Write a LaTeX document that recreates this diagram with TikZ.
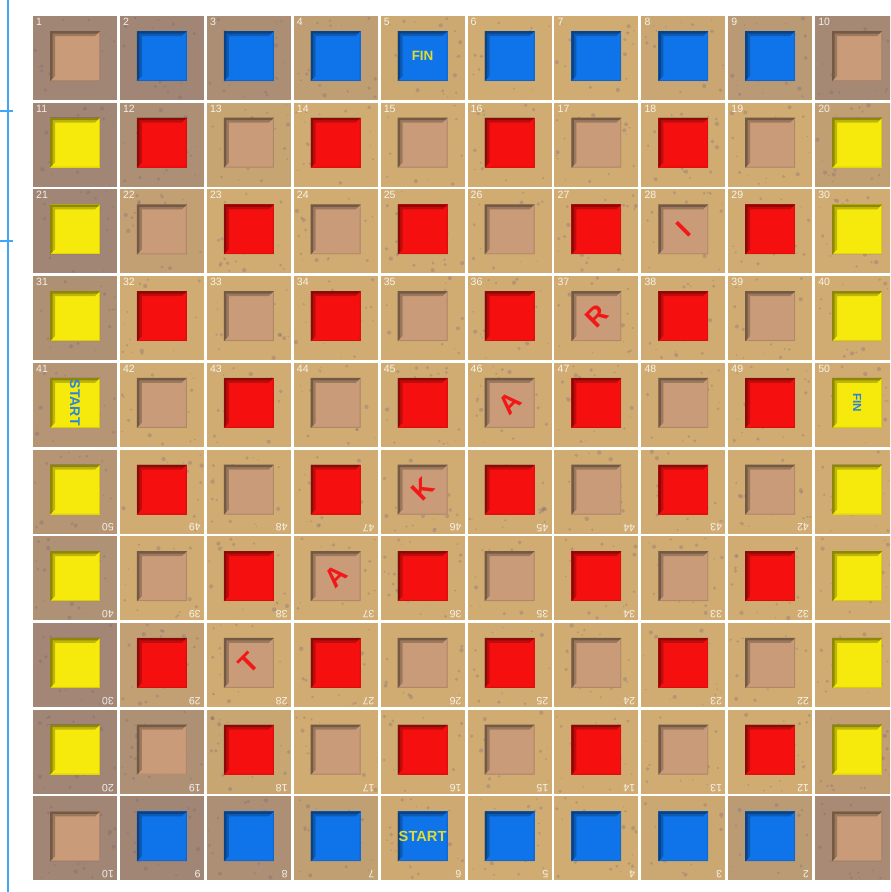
\documentclass[tikz,border=0pt]{standalone}
\usepackage{fontspec}
\setmainfont{Liberation Sans}
\definecolor{gold}{HTML}{D0AC72}
\definecolor{purp}{HTML}{9A7F76}
\definecolor{speck}{HTML}{6E5E7A}
\definecolor{btan}{HTML}{C99B78}
\definecolor{bred}{HTML}{F5100F}
\definecolor{bblue}{HTML}{0F74EA}
\definecolor{byel}{HTML}{F6EA0C}
\definecolor{rail}{HTML}{42A6F4}
\definecolor{lettr}{HTML}{F21818}
\definecolor{syel}{HTML}{DCDC34}
\definecolor{sblue}{HTML}{2A84DE}
\tikzset{
  numtl/.style={anchor=north west,inner sep=0pt,text=white,font=\fontsize{9}{9}\selectfont,opacity=.85},
  numbr/.style={anchor=north west,rotate=180,inner sep=0pt,text=white,font=\fontsize{9}{9}\selectfont,opacity=.85},
  letr/.style={rotate=45,inner sep=0pt,text=lettr,font=\fontsize{23}{23}\selectfont\bfseries},
  blab/.style={inner sep=0pt,text=syel,font=\fontsize{12.5}{12.5}\selectfont\bfseries},
  ylab/.style={inner sep=0pt,text=sblue,font=\fontsize{12}{12}\selectfont\bfseries},
  railline/.style={draw=rail,line width=1.9pt}
}
\begin{document}
\begin{tikzpicture}[x=0.03cm,y=-0.03cm]
\useasboundingbox (0,0) rectangle (890,892);
\fill[white] (0,0) rectangle (890,892);
\pgfmathsetseed{4242}
\begin{scope}
\clip (0,0) rectangle (890,892);
\foreach \r in {1,...,10}{
  \foreach \c in {1,...,10}{
    \pgfmathsetmacro\tx{33+86.9*(\c-1)}
    \pgfmathsetmacro\ty{16+86.7*(\r-1)}
    \pgfmathsetmacro\dd{100*sqrt(((\tx+42-540)/100)^2+((\ty+42-450)/100)^2)}
    \pgfmathtruncatemacro\pc{max(0,min(85,(\dd-400)*0.75))}
    \colorlet{tilec}{purp!\pc!gold}
    \fill[tilec] (\tx,\ty) rectangle ++(84,84);
    \foreach \k in {1,...,22}{
      \pgfmathsetmacro\px{\tx+2+80*rnd}
      \pgfmathsetmacro\py{\ty+2+80*rnd}
      \pgfmathsetmacro\pr{0.6+1.6*rnd}
      \fill[speck,opacity=.28] (\px,\py) circle[radius=\pr];
    }
    \pgfmathtruncatemacro\er{or(\r==1,\r==10)}
    \pgfmathtruncatemacro\ec{or(\c==1,\c==10)}
    \pgfmathtruncatemacro\kind{\er*(1-\ec)*2+\ec*(1-\er)*3+(1-\er)*(1-\ec)*(1-mod(\r+\c,2))}
    \ifcase\kind \colorlet{sq}{btan}\or \colorlet{sq}{bred}\or \colorlet{sq}{bblue}\or \colorlet{sq}{byel}\fi
    \pgfmathsetmacro\sx{\tx+17}
    \pgfmathsetmacro\sy{\ty+15}
    \fill[sq] (\sx,\sy) rectangle ++(50,50);
    \fill[black,opacity=.22] (\sx,\sy) -- ++(50,0) -- ++(-5,5) -- ++(-40,0) -- ++(0,40) -- ++(-5,5) -- cycle;
    \fill[black,opacity=.25] (\sx,\sy) -- ++(50,0) -- ++(-2.5,2.5) -- ++(-45,0) -- ++(0,45) -- ++(-2.5,2.5) -- cycle;
    \fill[black,opacity=.12] (\sx+50,\sy+50) -- ++(-50,0) -- ++(1,-1) -- ++(48,0) -- ++(0,-48) -- ++(1,-1) -- cycle;
    \ifnum\r<6
      \pgfmathtruncatemacro\num{(\r-1)*10+\c}
      \node[numtl] (n\r-\c) at (\tx+3,\ty+2) {\num};
    \else
      \ifnum\c<10
        \pgfmathtruncatemacro\num{(11-\r)*10-(\c-1)}
        \node[numbr] (n\r-\c) at (\tx+81,\ty+82) {\num};
      \fi
    \fi
  }
}
\foreach \c/\r/\ch in {8/3/I,7/4/R,6/5/A,5/6/K,4/7/A,3/8/T}{
  \node[letr] (l\r-\c) at ({33+86.9*(\c-1)+42},{16+86.7*(\r-1)+40}) {\ch};
}
\node[blab,font=\fontsize{11.5}{11.5}\selectfont\bfseries] (finTop) at ({33+86.9*4+42},{16+40}) {FIN};
\node[blab] (startBot) at ({33+86.9*4+42},{16+86.7*9+40}) {START};
\node[ylab,rotate=-90] (startLeft) at ({33+42},{16+86.7*4+40}) {START};
\node[ylab,rotate=-90,font=\fontsize{10}{10}\selectfont\bfseries] (finRight) at ({33+86.9*9+42},{16+86.7*4+40}) {FIN};
\end{scope}
\coordinate (railtop) at (8,0);
\coordinate (railbot) at (8,892);
\coordinate (tickA0) at (0,111);
\coordinate (tickA1) at (13,111);
\coordinate (tickB0) at (0,241);
\coordinate (tickB1) at (13,241);
\draw[railline] (railtop) -- (railbot);
\draw[railline] (tickA0) -- (tickA1);
\draw[railline] (tickB0) -- (tickB1);
\end{tikzpicture}
\end{document}
